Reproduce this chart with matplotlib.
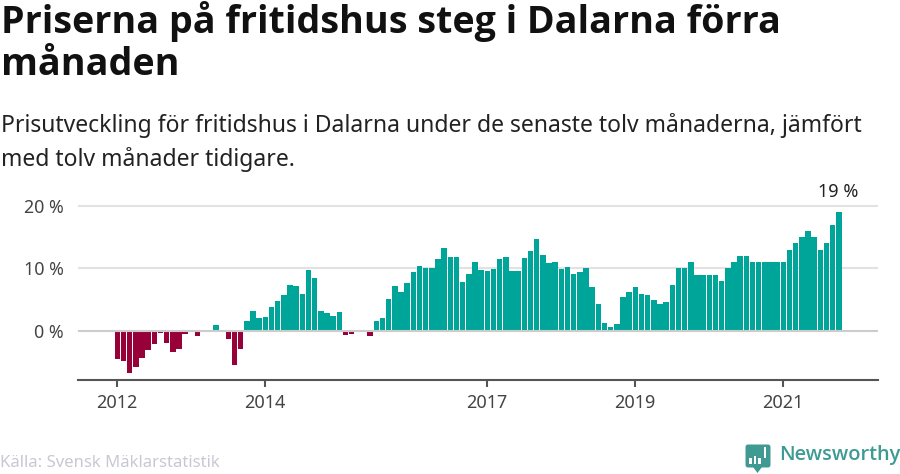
import matplotlib
matplotlib.use("Agg")
import matplotlib.pyplot as plt
from matplotlib.patches import Polygon, Rectangle, FancyBboxPatch

plt.rcParams['font.family'] = ['Noto Sans', 'DejaVu Sans']

title = "Priserna på fritidshus steg i Dalarna förra\nmånaden"
subtitle = "Prisutveckling för fritidshus i Dalarna under de senaste tolv månaderna, jämfört\nmed tolv månader tidigare."
source = "Källa: Svensk Mäklarstatistik"
brand = "Newsworthy"
last_label = "19 %"

values = [
    -4.5, -4.8, -6.7, -5.7, -4.3, -3.0, -2.1, -0.3, -1.9, -3.4, -2.9, -0.5,
    0, -0.8, 0, 0, 1.0, 0, -1.3, -5.4, -2.9, 1.6, 3.2, 2.1,
    2.2, 3.8, 4.8, 5.7, 7.3, 7.2, 5.9, 9.7, 8.5, 3.2, 2.9, 2.4,
    3.0, -0.6, -0.5, 0, 0, -0.8, 1.6, 2.1, 5.1, 7.2, 6.2, 7.7,
    9.4, 10.4, 10.1, 10.1, 11.5, 13.2, 11.8, 11.8, 7.8, 9.1, 11.0, 9.7,
    9.6, 9.9, 11.5, 11.8, 9.6, 9.6, 11.6, 12.8, 14.7, 12.1, 10.9, 11.0,
    9.9, 10.2, 9.1, 9.4, 10.1, 7.0, 4.3, 1.3, 0.6, 1.1, 5.4, 6.2,
    7.0, 5.9, 5.7, 4.9, 4.3, 4.7, 7.3, 10, 10, 11, 9, 9,
    9, 9, 8, 10, 11, 12, 12, 11, 11, 11, 11, 11,
    11, 13, 14, 15, 16, 15, 13, 14, 17, 19,
]
months = list(range(len(values)))
tick_months = [0, 24, 60, 84, 108]
tick_labels = ["2012", "2014", "2017", "2019", "2021"]
y_ticks = [0, 10, 20]
y_labels = ["0 %", "10 %", "20 %"]

TEAL = "#00a59a"
RED = "#970038"

W, H = 900, 474
fig = plt.figure(figsize=(W / 100, H / 100), dpi=100, facecolor="white")
ax = fig.add_axes([78 / W, 1 - 380 / H, 800 / W, 190 / H])

px_per_month = 6.167
ax.set_xlim((78 - 116.8) / px_per_month, (878 - 116.8) / px_per_month)
px_per_unit = 6.26
ax.set_ylim(-49 / px_per_unit, 141 / px_per_unit)

colors = [TEAL if v >= 0 else RED for v in values]
ax.bar([m + 0.08 for m in months], values, width=0.88, color=colors, linewidth=0, zorder=2)

for s in ["top", "left", "right"]:
    ax.spines[s].set_visible(False)
ax.spines["bottom"].set_color("#555555")
ax.spines["bottom"].set_linewidth(1.5)

ax.set_yticks(y_ticks)
ax.set_yticklabels(y_labels, fontsize=12.8, color="#444444")
ax.tick_params(axis="y", length=0, pad=10.5)
ax.set_xticks(tick_months)
ax.set_xticklabels(tick_labels, fontsize=13, color="#444444")
ax.tick_params(axis="x", length=5, width=1.5, color="#555555", pad=5)

for y in y_ticks:
    if y == 0:
        ax.axhline(y, color="#cccccc", lw=1.5, zorder=3)
    else:
        ax.axhline(y, color="#e2e2e2", lw=1.5, zorder=1)

ax.annotate(last_label, xy=(months[-1], values[-1]), xytext=(0, 14.3),
            textcoords="offset points", ha="center", va="center",
            fontsize=13, color="#222222")

fig.text(1 / W, 1 - 1 / H, title, fontsize=27.1, fontweight="bold", family=["Open Sans", "DejaVu Sans"],
         color="#111111", va="top", ha="left", linespacing=1.13)
fig.text(1 / W, 1 - 113 / H, subtitle, fontsize=16.5, color="#222222",
         va="top", ha="left", linespacing=1.45)
fig.text(0 / W, 1 - 463 / H, source, fontsize=12, color="#c8c8d4", va="center", ha="left")
fig.text(779 / W, 1 - 455 / H, brand, fontsize=14.4, fontweight="semibold", family=["Open Sans", "DejaVu Sans"],
         color="#3f9a94", va="center", ha="left")

# logo
lax = fig.add_axes([0, 0, 1, 1], facecolor="none")
lax.set_xlim(0, W)
lax.set_ylim(H, 0)
lax.axis("off")
lax.add_patch(FancyBboxPatch((747, 446), 22, 20, boxstyle="round,pad=1.5,rounding_size=2.5",
                             facecolor="#3f9a94", edgecolor="none"))
lax.add_patch(Polygon([(753, 467), (762, 467), (757.5, 473)], closed=True, facecolor="#3f9a94", edgecolor="none"))
for x0, top in [(749, 458), (753.5, 456), (758, 458), (763.5, 447)]:
    lax.add_patch(Rectangle((x0, top), 2.6, 464 - top if x0 != 763.5 else 11, facecolor="white", edgecolor="none"))

fig.savefig("out.png", dpi=100, facecolor="white")
